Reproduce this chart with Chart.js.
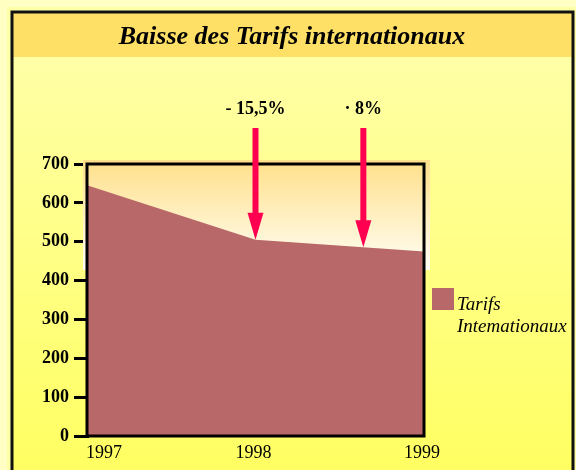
<!DOCTYPE html>
<html>
<head>
<meta charset="utf-8">
<script src="https://cdn.jsdelivr.net/npm/chart.js@4/dist/chart.umd.min.js"></script>
<style>
html,body{margin:0;padding:0;background:#FFFFC0;}
#wrap{width:576px;height:470px;position:relative;}
</style>
</head>
<body>
<div id="wrap"><canvas id="c" width="576" height="470"></canvas></div>
<script>
// ---- data ----
const chartTitle = 'Baisse des Tarifs internationaux';
const years = [1997, 1998, 1999];
const tarifs = [645, 505, 475];
const seriesLabel = ['Tarifs', 'Intemationaux'];
const yTicks = [0, 100, 200, 300, 400, 500, 600, 700];
const arrowYears = [1998, 1998.64];
const arrowLabels = ['- 15,5%', '\u00B7 8%'];

const SERIF = '"Liberation Serif", "Times New Roman", "DejaVu Serif", serif';

function interp(x) {
  for (let i = 0; i < years.length - 1; i++) {
    if (x >= years[i] && x <= years[i + 1]) {
      const t = (x - years[i]) / (years[i + 1] - years[i]);
      return tarifs[i] + t * (tarifs[i + 1] - tarifs[i]);
    }
  }
  return tarifs[tarifs.length - 1];
}

const decor = {
  id: 'decor',
  beforeDraw(chart) {
    const ctx = chart.ctx;
    const W = chart.width, H = chart.height;
    ctx.save();
    ctx.fillStyle = '#FFFFC4';
    ctx.fillRect(0, 0, W, H);
    ctx.fillStyle = '#FFFFA8';
    ctx.fillRect(7, 7, W - 7, H - 7);
    const g = ctx.createLinearGradient(0, 57, 0, H);
    g.addColorStop(0, '#FFFFA6');
    g.addColorStop(1, '#FFFF62');
    ctx.fillStyle = g;
    ctx.fillRect(12, 57, 562, H - 57);
    ctx.fillStyle = '#FFE066';
    ctx.fillRect(12, 12, 562, 45);
    ctx.strokeStyle = '#111';
    ctx.lineWidth = 3;
    ctx.beginPath();
    ctx.moveTo(12, H + 5);
    ctx.lineTo(12, 12);
    ctx.lineTo(573, 12);
    ctx.lineTo(573, H + 5);
    ctx.stroke();
    ctx.fillStyle = '#000';
    ctx.font = 'italic bold 26px ' + SERIF;
    ctx.textAlign = 'center';
    ctx.textBaseline = 'middle';
    ctx.fillText(chartTitle, 292, 37);
    ctx.restore();
  },
  beforeDatasetsDraw(chart) {
    const ctx = chart.ctx, a = chart.chartArea;
    ctx.save();
    const g = ctx.createLinearGradient(0, a.top - 4, 0, a.top + 106);
    g.addColorStop(0, '#FFE08A');
    g.addColorStop(1, '#FFFEF6');
    ctx.fillStyle = g;
    ctx.fillRect(a.left - 4, a.top - 4, a.right - a.left + 10, 110);
    ctx.restore();
  },
  afterDatasetsDraw(chart) {
    const ctx = chart.ctx, a = chart.chartArea;
    const xs = chart.scales.x, ys = chart.scales.y;
    ctx.save();
    ctx.strokeStyle = '#000';
    ctx.lineWidth = 3;
    ctx.strokeRect(a.left, a.top, a.right - a.left, a.bottom - a.top);
    ctx.fillStyle = '#000';
    ctx.font = '18px ' + SERIF;
    ctx.textBaseline = 'middle';
    years.forEach((yr, i) => {
      const px = xs.getPixelForValue(yr);
      ctx.textAlign = i === 0 ? 'left' : 'center';
      ctx.fillText(String(yr), i === 0 ? px - 1 : px - 2, a.bottom + 17);
    });
    arrowYears.forEach((yr, i) => {
      const px = xs.getPixelForValue(yr);
      const tip = ys.getPixelForValue(interp(yr));
      const top = a.top - 36;
      const headH = 27, headW = 8;
      ctx.fillStyle = '#FF0050';
      ctx.fillRect(px - 3, top, 6, tip - headH - top + 2);
      ctx.beginPath();
      ctx.moveTo(px - headW, tip - headH);
      ctx.lineTo(px + headW, tip - headH);
      ctx.lineTo(px, tip);
      ctx.closePath();
      ctx.fill();
      ctx.fillStyle = '#000';
      ctx.font = 'bold 18px ' + SERIF;
      ctx.textAlign = 'center';
      ctx.textBaseline = 'middle';
      ctx.fillText(arrowLabels[i], px, a.top - 55);
    });
    const lx = a.right + 8, ly = 288;
    ctx.fillStyle = '#B86868';
    ctx.fillRect(lx, ly, 22, 22);
    ctx.fillStyle = '#000';
    ctx.font = 'italic 19px ' + SERIF;
    ctx.textAlign = 'left';
    ctx.textBaseline = 'alphabetic';
    ctx.fillText(seriesLabel[0], lx + 25, ly + 22);
    ctx.fillText(seriesLabel[1], lx + 25, ly + 44);
    ctx.restore();
  }
};

new Chart(document.getElementById('c'), {
  type: 'line',
  data: {
    datasets: [{
      label: seriesLabel.join(' '),
      data: years.map((y, i) => ({ x: y, y: tarifs[i] })),
      fill: 'origin',
      backgroundColor: '#B86868',
      borderWidth: 0,
      borderColor: 'rgba(0,0,0,0)',
      pointRadius: 0,
      tension: 0
    }]
  },
  options: {
    responsive: false,
    animation: false,
    devicePixelRatio: 1,
    layout: { padding: { left: 0, right: 152, top: 164, bottom: 34 } },
    plugins: { legend: { display: false }, title: { display: false }, tooltip: { enabled: false } },
    scales: {
      x: {
        type: 'linear',
        min: years[0],
        max: years[years.length - 1],
        display: true,
        ticks: { display: false, stepSize: 1 },
        grid: { display: false },
        border: { display: false },
        afterFit(s) { s.height = 0; }
      },
      y: {
        min: yTicks[0],
        max: yTicks[yTicks.length - 1],
        afterBuildTicks(s) { s.ticks = yTicks.map(v => ({ value: v })); },
        ticks: {
          color: '#000',
          padding: 5,
          font: { family: SERIF, size: 18, weight: 'bold' }
        },
        grid: { drawOnChartArea: false, drawTicks: true, tickLength: 13, color: '#000', lineWidth: 3 },
        border: { display: true, color: '#000', width: 3 },
        afterFit(s) { s.width = 87; }
      }
    }
  },
  plugins: [decor]
});
</script>
</body>
</html>
